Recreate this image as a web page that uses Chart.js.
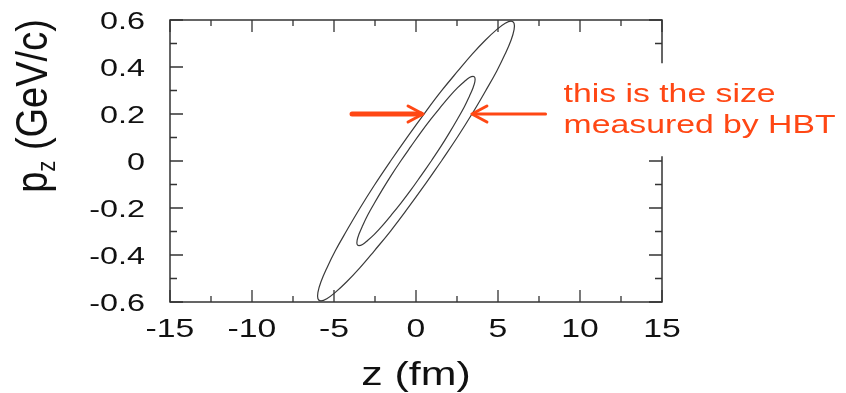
<!DOCTYPE html>
<html>
<head>
<meta charset="utf-8">
<title>z - pz</title>
<script src="https://cdn.jsdelivr.net/npm/chart.js@4.4.1/dist/chart.umd.min.js"></script>
<style>
  html, body { margin: 0; padding: 0; background: #fff; }
  #wrap { width: 846px; height: 393px; }
</style>
</head>
<body>
<div id="wrap"><canvas id="chart" width="846" height="393"></canvas></div>
<script>
// tick values
const zTicks = [-15, -10, -5, 0, 5, 10, 15];
const pTicks = [0.6, 0.4, 0.2, 0, -0.2, -0.4, -0.6];

// outer contour, z (fm) / pz (GeV/c), starting on the right side at pz = 0
const outerZ = [1.55, 0.52, -0.52, -1.55, -2.54, -3.44, -4.24, -4.92, -5.44, -5.80, -5.98, -5.98, -5.80,
  -5.44, -4.92, -4.24, -3.44, -2.54, -1.55, -0.52, 0.52, 1.55, 2.54, 3.44, 4.24, 4.92, 5.44, 5.80,
  5.98, 5.98, 5.80, 5.44, 4.92, 4.24, 3.44, 2.54, 1.55];
const outerP = [0, -0.103, -0.203, -0.298, -0.382, -0.456, -0.515, -0.559, -0.586, -0.595, -0.586, -0.559, -0.515,
  -0.456, -0.382, -0.298, -0.203, -0.103, 0, 0.103, 0.203, 0.298, 0.382, 0.456, 0.515, 0.559, 0.586, 0.595,
  0.586, 0.559, 0.515, 0.456, 0.382, 0.298, 0.203, 0.103, 0];

// inner contour
const innerZ = [0.93, 0.31, -0.31, -0.93, -1.52, -2.06, -2.54, -2.95, -3.26, -3.48, -3.59, -3.59, -3.48,
  -3.26, -2.95, -2.54, -2.06, -1.52, -0.93, -0.31, 0.31, 0.93, 1.52, 2.06, 2.54, 2.95, 3.26, 3.48,
  3.59, 3.59, 3.48, 3.26, 2.95, 2.54, 2.06, 1.52, 0.93];
const innerP = [0, -0.062, -0.123, -0.180, -0.231, -0.276, -0.312, -0.338, -0.355, -0.360, -0.355, -0.338, -0.312,
  -0.276, -0.231, -0.180, -0.123, -0.062, 0, 0.062, 0.123, 0.180, 0.231, 0.276, 0.312, 0.338, 0.355, 0.360,
  0.355, 0.338, 0.312, 0.276, 0.231, 0.180, 0.123, 0.062, 0];

// the two arrows sit at pz = 0.2 and end on the outer contour
const arrowP = 0.2;
const leftArrowZ = [-3.9, 0.43];
const rightArrowZ = [7.9, 3.41];
const noteLines = ['this is the size', 'measured by HBT'];

const FONT = '"Liberation Sans", Arial, Helvetica, sans-serif';
const RED = '#ff4714';
const WIDEN = 1.35;   // labels are drawn a bit wider than the font

function toPoints(zs, ps) {
  return zs.map((z, i) => ({ x: z, y: ps[i] }));
}

function wideText(ctx, text, x, y, size, align, sx) {
  ctx.save();
  ctx.font = size + 'px ' + FONT;
  ctx.textAlign = align;
  ctx.textBaseline = 'alphabetic';
  ctx.translate(x, y);
  ctx.scale(sx, 1);
  ctx.fillText(text, 0, 0);
  ctx.restore();
}

function arrow(ctx, x0, x1, y, width) {
  const dir = Math.sign(x1 - x0);
  ctx.save();
  ctx.strokeStyle = RED;
  ctx.lineCap = 'round';
  ctx.lineJoin = 'round';
  ctx.lineWidth = width;
  ctx.beginPath();
  ctx.moveTo(x0, y);
  ctx.lineTo(x1 - dir * 2, y);
  ctx.stroke();
  ctx.lineWidth = 3;
  ctx.beginPath();
  ctx.moveTo(x1 - dir * 15, y - 8);
  ctx.lineTo(x1, y);
  ctx.lineTo(x1 - dir * 15, y + 8);
  ctx.stroke();
  ctx.restore();
}

// frame, inward ticks, labels and the note
const framePlugin = {
  id: 'frame',
  afterDatasetsDraw(chart) {
    const { ctx, chartArea: a, scales: { x, y } } = chart;
    ctx.save();

    ctx.strokeStyle = '#333';
    ctx.lineWidth = 1.5;
    ctx.strokeRect(a.left, a.top, a.right - a.left, a.bottom - a.top);

    ctx.lineWidth = 1.3;
    ctx.beginPath();
    for (let k = -6; k <= 6; k++) {
      const px = x.getPixelForValue(k * 2.5);
      const len = k % 2 === 0 ? 12 : 6;
      ctx.moveTo(px, a.bottom); ctx.lineTo(px, a.bottom - len);
      ctx.moveTo(px, a.top); ctx.lineTo(px, a.top + len);
    }
    for (let k = -6; k <= 6; k++) {
      const py = y.getPixelForValue(k / 10);
      const len = k % 2 === 0 ? 13 : 7;
      ctx.moveTo(a.left, py); ctx.lineTo(a.left + len, py);
      ctx.moveTo(a.right, py); ctx.lineTo(a.right - len, py);
    }
    ctx.stroke();

    ctx.fillStyle = '#111';
    zTicks.forEach(v => {
      wideText(ctx, String(v), x.getPixelForValue(v), a.bottom + 35, 25, 'center', WIDEN);
    });
    pTicks.forEach(v => {
      const label = v === 0 ? '0' : v.toFixed(1);
      wideText(ctx, label, a.left - 25, y.getPixelForValue(v) + 9, 24, 'right', WIDEN);
    });

    // axis titles
    wideText(ctx, 'z (fm)', (a.left + a.right) / 2, 385, 33, 'center', 1.3);

    ctx.save();
    const main = 38, sub = 22;
    ctx.font = main + 'px ' + FONT;
    const wp = ctx.measureText('p').width;
    const wRest = ctx.measureText(' (GeV/c)').width;
    ctx.font = sub + 'px ' + FONT;
    const wz = ctx.measureText('z').width;
    const total = wp + wz + wRest;
    ctx.translate(47, (a.top + 192) / 2 + total / 2);
    ctx.rotate(-Math.PI / 2);
    ctx.scale(1, 1.15);
    ctx.textBaseline = 'alphabetic';
    ctx.textAlign = 'left';
    ctx.font = main + 'px ' + FONT;
    ctx.fillText('p', 0, 0);
    ctx.font = sub + 'px ' + FONT;
    ctx.fillText('z', wp, 7);
    ctx.font = main + 'px ' + FONT;
    ctx.fillText(' (GeV/c)', wp + wz, 0);
    ctx.restore();

    // note box covers the right edge of the frame
    const noteX = x.getPixelForValue(9.0);
    const noteY = y.getPixelForValue(0.25);
    ctx.fillStyle = '#fff';
    ctx.fillRect(noteX - 10, noteY - 39, chart.width - noteX + 10, 93);
    ctx.fillStyle = RED;
    noteLines.forEach((line, i) => {
      wideText(ctx, line, noteX, noteY + i * 31, 25, 'left', WIDEN);
    });

    const ay = y.getPixelForValue(arrowP);
    arrow(ctx, x.getPixelForValue(leftArrowZ[0]), x.getPixelForValue(leftArrowZ[1]), ay, 5);
    arrow(ctx, x.getPixelForValue(rightArrowZ[0]), x.getPixelForValue(rightArrowZ[1]), ay, 3);

    ctx.restore();
  }
};

const lineStyle = {
  showLine: true,
  borderColor: '#3a3a3a',
  borderWidth: 1.2,
  pointRadius: 0,
  tension: 0.4,
  fill: false
};

new Chart(document.getElementById('chart'), {
  type: 'scatter',
  data: {
    datasets: [
      { label: 'outer', data: toPoints(outerZ, outerP), ...lineStyle },
      { label: 'inner', data: toPoints(innerZ, innerP), ...lineStyle }
    ]
  },
  options: {
    responsive: false,
    animation: false,
    devicePixelRatio: 1,
    layout: { padding: { left: 170, right: 184, top: 20, bottom: 91 } },
    plugins: { legend: { display: false }, tooltip: { enabled: false } },
    scales: {
      x: { type: 'linear', min: -15, max: 15, display: false },
      y: { type: 'linear', min: -0.6, max: 0.6, display: false }
    }
  },
  plugins: [framePlugin]
});
</script>
</body>
</html>
